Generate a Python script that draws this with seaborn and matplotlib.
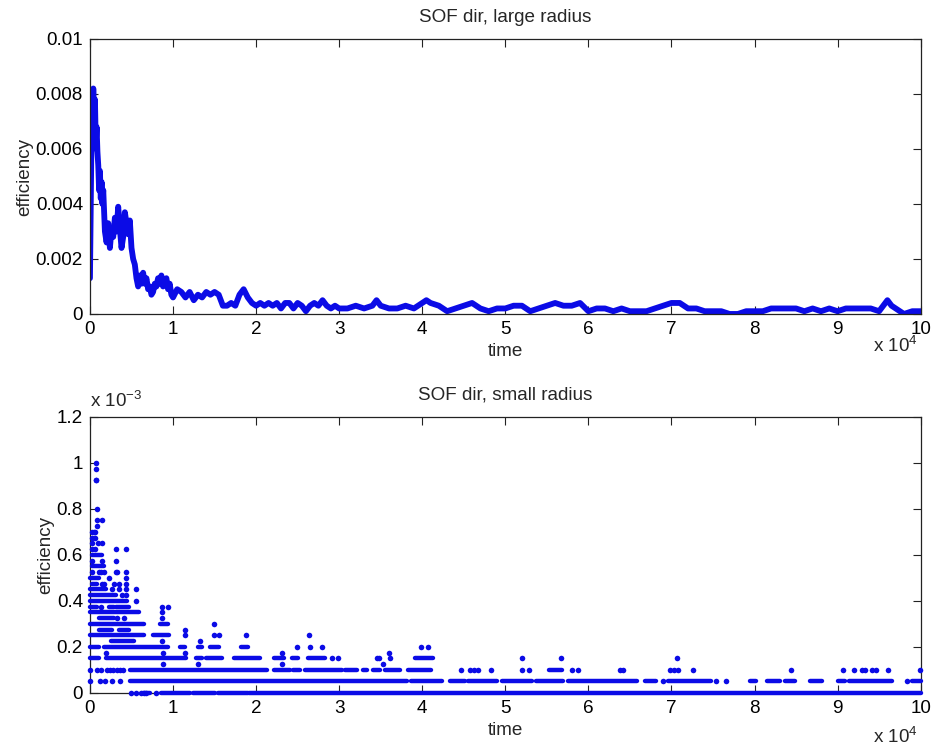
import matplotlib
matplotlib.use("Agg")
import matplotlib.pyplot as plt
import seaborn as sns
from matplotlib.ticker import FixedLocator, FuncFormatter

# ---------------------------------------------------------------- data
# Large radius: (time step, efficiency)
large_radius = [
    (0, 0.0013), (50, 0.0028), (100, 0.0045), (150, 0.0055), (200, 0.0065),
    (300, 0.0060), (400, 0.0082), (500, 0.0070), (600, 0.0078), (700, 0.0062),
    (800, 0.0068), (900, 0.0059), (1000, 0.0054), (1100, 0.0045), (1200, 0.0052),
    (1300, 0.0042), (1400, 0.0048), (1500, 0.0040), (1600, 0.0045), (1700, 0.0037),
    (1800, 0.0030), (2000, 0.0026), (2200, 0.0033), (2400, 0.0024), (2600, 0.0031),
    (2800, 0.0028), (3000, 0.0035), (3200, 0.0030), (3400, 0.0039), (3600, 0.0031),
    (3800, 0.0024), (4000, 0.0028), (4200, 0.0037), (4400, 0.0033), (4600, 0.0029),
    (4800, 0.0034), (5000, 0.0024), (5200, 0.0020), (5400, 0.0018), (5600, 0.0013),
    (5800, 0.0010), (6000, 0.0014), (6200, 0.0011), (6400, 0.0015), (6600, 0.0011),
    (6800, 0.0013), (7000, 0.0009), (7200, 0.0010), (7400, 0.0007), (7600, 0.0008),
    (7800, 0.0011), (8000, 0.0010), (8200, 0.0013), (8400, 0.0011), (8600, 0.0014),
    (8800, 0.0010), (9000, 0.0012), (9200, 0.0013), (9400, 0.0009), (9600, 0.0011),
    (9800, 0.0007), (10000, 0.0006), (10500, 0.0009), (11000, 0.0008),
    (11500, 0.0006), (12000, 0.0008), (12500, 0.0005), (13000, 0.0007),
    (13500, 0.0006), (14000, 0.0008), (14500, 0.0007), (15000, 0.0008),
    (15500, 0.0007), (16000, 0.0003), (16500, 0.0003), (17000, 0.0004),
    (17500, 0.0003), (18000, 0.0007), (18500, 0.0009), (19000, 0.0006),
    (19500, 0.0004), (20000, 0.0003), (20500, 0.0004), (21000, 0.0003),
    (21500, 0.0004), (22000, 0.0003), (22500, 0.0004), (23000, 0.0002),
    (23500, 0.0004), (24000, 0.0004), (24500, 0.0002), (25000, 0.0004),
    (25500, 0.0003), (26000, 0.0001), (26500, 0.0003), (27000, 0.0004),
    (27500, 0.0003), (28000, 0.0005), (28500, 0.0003), (29000, 0.0002),
    (29500, 0.0003), (30000, 0.0002), (31000, 0.0002), (32000, 0.0003),
    (33000, 0.0002), (34000, 0.0003), (34500, 0.0005), (35000, 0.0003),
    (36000, 0.0002), (37000, 0.0002), (38000, 0.0003), (39000, 0.0002),
    (40000, 0.0004), (40500, 0.0005), (41000, 0.0004), (42000, 0.0003),
    (43000, 0.0001), (44000, 0.0002), (45000, 0.0003), (46000, 0.0004),
    (47000, 0.0002), (48000, 0.0001), (49000, 0.0002), (50000, 0.0002),
    (51000, 0.0003), (52000, 0.0003), (53000, 0.0001), (54000, 0.0002),
    (55000, 0.0003), (56000, 0.0004), (57000, 0.0003), (58000, 0.0003),
    (59000, 0.0004), (60000, 0.0001), (61000, 0.0002), (62000, 0.0002),
    (63000, 0.0001), (64000, 0.0002), (65000, 0.0001), (66000, 0.0001),
    (67000, 0.0001), (68000, 0.0002), (69000, 0.0003), (70000, 0.0004),
    (71000, 0.0004), (72000, 0.0002), (73000, 0.0002), (74000, 0.0001),
    (75000, 0.0001), (76000, 0.0001), (77000, 0.0000), (78000, 0.0000),
    (79000, 0.0001), (80000, 0.0001), (81000, 0.0001), (82000, 0.0002),
    (83000, 0.0002), (84000, 0.0002), (85000, 0.0002), (86000, 0.0001),
    (87000, 0.0002), (88000, 0.0001), (89000, 0.0002), (90000, 0.0001),
    (91000, 0.0002), (92000, 0.0002), (93000, 0.0002), (94000, 0.0002),
    (95000, 0.0001), (96000, 0.0005), (96500, 0.0003), (97000, 0.0002),
    (98000, 0.0000), (99000, 0.0001), (100000, 0.0001),
]
top_time = [t for t, _ in large_radius]
top_eff = [e for _, e in large_radius]

# Small radius: efficiency takes discrete levels.
# Stretches of consecutive samples that sit on one level: (level, first, last)
small_runs = [
    (0.0, 6400, 7200), (0.0, 8600, 12000), (0.0, 12400, 15000),
    (0.0, 15400, 19000), (0.0, 19200, 100000),
    (0.00005, 4800, 38200), (0.00005, 38600, 42400), (0.00005, 43400, 45100),
    (0.00005, 45500, 49000), (0.00005, 49600, 53200), (0.00005, 53700, 57000),
    (0.00005, 57600, 65800), (0.00005, 66800, 68200), (0.00005, 69600, 74800),
    (0.00005, 79500, 80200), (0.00005, 81500, 83100), (0.00005, 83700, 84900),
    (0.00005, 86700, 88100), (0.00005, 90000, 90900), (0.00005, 91400, 96500),
    (0.00005, 99000, 100000),
    (0.0001, 4800, 21300), (0.0001, 22100, 24100), (0.0001, 24500, 25300),
    (0.0001, 25900, 30300), (0.0001, 30700, 32100), (0.0001, 32900, 33300),
    (0.0001, 34100, 34900), (0.0001, 35500, 37300), (0.0001, 38300, 41100),
    (0.0001, 55300, 56800),
    (0.00015, 0, 1100), (0.00015, 1900, 11600), (0.00015, 12800, 13500),
    (0.00015, 14000, 15900), (0.00015, 17300, 20500), (0.00015, 22100, 23300),
    (0.00015, 24300, 25100), (0.00015, 26300, 28300), (0.00015, 39100, 41300),
    (0.0002, 0, 1100), (0.0002, 1700, 9400), (0.0002, 10800, 11400),
    (0.0002, 13000, 13500), (0.0002, 14500, 15500), (0.0002, 18200, 19000),
    (0.000225, 2500, 5300),
    (0.00025, 0, 6500), (0.00025, 7600, 9500),
    (0.000275, 1100, 2700), (0.000275, 3500, 4700),
    (0.0003, 0, 6500), (0.0003, 8400, 9400),
    (0.000325, 1100, 2900),
    (0.00035, 0, 5900),
    (0.000375, 0, 900), (0.000375, 2300, 2900), (0.000375, 3100, 4700),
    (0.0004, 0, 4500),
    (0.000425, 0, 3100),
    (0.00045, 0, 1900),
    (0.000475, 200, 900),
    (0.0005, 0, 1100),
    (0.00055, 200, 1700),
    (0.0006, 200, 1500),
]
run_eff = [r[0] for r in small_runs]
run_start = [r[1] for r in small_runs]
run_end = [r[2] for r in small_runs]

# Isolated samples: (level, [time steps])
small_dots = [
    (0.0, [5000, 5600, 6200, 6500, 6800, 8000]),
    (0.00005, [0, 1200, 1800, 2600, 3600, 69000, 75400, 76600, 98300]),
    (0.0001, [0, 900, 1300, 2000, 2400, 2800, 3200, 3600, 4000, 44700, 45700,
              46200, 46700, 48300, 52000, 52900, 58000, 58800, 63800, 64200,
              69800, 70300, 70800, 72600, 84400, 90600, 92000, 93000, 93300,
              94100, 94600, 96100, 99900]),
    (0.000125, [8800, 13000, 23100, 35300]),
    (0.00015, [29100, 29900, 34500, 34800, 36100, 52000, 56700, 70700]),
    (0.000175, [1900, 8800, 11400, 23100, 36000]),
    (0.0002, [24900, 26500, 27900, 39800, 40700]),
    (0.000225, [8700, 13200]),
    (0.00025, [11400, 14900, 15500, 18800, 26400]),
    (0.000275, [11400]),
    (0.0003, [14900]),
    (0.000325, [3300, 4100, 8700]),
    (0.00035, [8700]),
    (0.000375, [1300, 8700, 9400]),
    (0.0004, [5500]),
    (0.000425, [3900, 4300]),
    (0.00045, [2700, 3500, 4300, 5500]),
    (0.000475, [1500, 1700, 2900, 3500, 4300]),
    (0.0005, [2300, 4300]),
    (0.000525, [200, 1100, 1300, 1700, 3100, 3300, 4300]),
    (0.000575, [300, 1500, 3100]),
    (0.000625, [200, 600, 3100, 4300]),
    (0.00065, [200, 1000, 1500]),
    (0.000675, [200, 600]),
    (0.0007, [300, 500, 600]),
    (0.000725, [800]),
    (0.00075, [800, 1500]),
    (0.0008, [800]),
    (0.000925, [700, 750]),
    (0.000975, [700]),
    (0.001, [700]),
]
dot_time = [t for _, ts in small_dots for t in ts]
dot_eff = [lvl for lvl, ts in small_dots for _ in ts]

# ---------------------------------------------------------------- style
sns.set_theme(style="white")
plt.rcParams["font.family"] = ["Liberation Sans", "DejaVu Sans"]
plt.rcParams["mathtext.fontset"] = "custom"
plt.rcParams["mathtext.rm"] = "Liberation Sans"
plt.rcParams["mathtext.it"] = "Liberation Sans"
plt.rcParams["mathtext.default"] = "regular"

BLUE = "#0b0be6"
FS = 13.6

fig = plt.figure(figsize=(9.4, 7.47), dpi=100)
ax1 = fig.add_axes([0.0957, 0.5797, 0.8837, 0.3681])
ax2 = fig.add_axes([0.0957, 0.0723, 0.8837, 0.3695])


def boxed(ax):
    for sp in ax.spines.values():
        sp.set_visible(True)
        sp.set_color("#222222")
        sp.set_linewidth(0.9)
    ax.tick_params(direction="in", length=6, width=0.8, top=True, right=True,
                   bottom=True, left=True, labelsize=FS, pad=5,
                   color="#222222", labelcolor="black")
    ax.set_xlim(0, 100000)
    ax.xaxis.set_major_locator(FixedLocator(range(0, 100001, 10000)))
    ax.xaxis.set_major_formatter(FuncFormatter(lambda v, p: f"{v / 1e4:g}"))
    ax.grid(False)


# ---- upper panel
sns.lineplot(x=top_time, y=top_eff, ax=ax1, color=BLUE, lw=4.2,
             solid_joinstyle="round", solid_capstyle="round")
boxed(ax1)
ax1.set_ylim(0, 0.01)
ax1.yaxis.set_major_locator(FixedLocator([0, 0.002, 0.004, 0.006, 0.008, 0.01]))
ax1.yaxis.set_major_formatter(FuncFormatter(lambda v, p: f"{v:g}"))
ax1.set_xlabel("time", fontsize=FS, labelpad=4)
ax1.set_ylabel("efficiency", fontsize=FS, labelpad=2)
fig.text(0.5372, 1 - 18 / 747, "SOF dir, large radius", ha="center",
         va="center", fontsize=FS)
fig.text(918 / 940, 1 - 346 / 747, r"x 10$^{4}$", ha="right", va="center",
         fontsize=FS)

# ---- lower panel
ax2.hlines(run_eff, run_start, run_end, colors=BLUE, lw=3.2,
           capstyle="round", clip_on=False, zorder=3)
sns.scatterplot(x=dot_time, y=dot_eff, ax=ax2, color=BLUE, s=16,
                linewidth=0, marker="o", clip_on=False, zorder=3)
boxed(ax2)
ax2.set_ylim(0, 0.0012)
ax2.yaxis.set_major_locator(FixedLocator([0, 0.0002, 0.0004, 0.0006,
                                          0.0008, 0.001, 0.0012]))
ax2.yaxis.set_major_formatter(FuncFormatter(lambda v, p: f"{v * 1e3:g}"))
ax2.set_xlabel("time", fontsize=FS, labelpad=4)
ax2.set_ylabel("efficiency", fontsize=FS, labelpad=2)
fig.text(0.5372, 1 - 395 / 747, "SOF dir, small radius", ha="center",
         va="center", fontsize=FS)
fig.text(90 / 940, 1 - 401 / 747, "x 10$^{-3}$", ha="left", va="center",
         fontsize=FS)
fig.text(918 / 940, 1 - 737 / 747, r"x 10$^{4}$", ha="right", va="center",
         fontsize=FS)

fig.savefig("out.png", dpi=100, facecolor="white")
